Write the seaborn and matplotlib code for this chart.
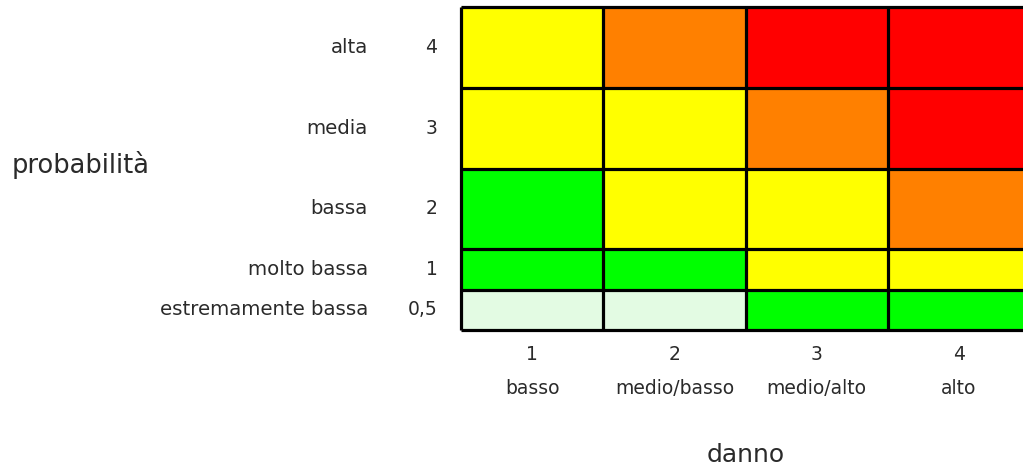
import numpy as np
import matplotlib
matplotlib.use('Agg')
import matplotlib.pyplot as plt
from matplotlib.colors import ListedColormap
import matplotlib.transforms as mtransforms
import seaborn as sns

# Risk matrix data (rows from top to bottom)
prob_values = ['4', '3', '2', '1', '0,5']
prob_names = ['alta', 'media', 'bassa', 'molto bassa', 'estremamente bassa']
damage_values = ['1', '2', '3', '4']
damage_names = ['basso', 'medio/basso', 'medio/alto', 'alto']

# risk class for each cell: 0 light green, 1 green, 2 yellow, 3 orange, 4 red
risk_alta = [2, 3, 4, 4]
risk_media = [2, 2, 3, 4]
risk_bassa = [1, 2, 2, 3]
risk_molto_bassa = [1, 1, 2, 2]
risk_estremamente_bassa = [0, 0, 1, 1]

risk_colors = ['#e3fbe3', '#00ff00', '#ffff00', '#ff8000', '#ff0000']

# the top three rows are drawn twice as tall as the bottom two
row_span = [2, 2, 2, 1, 1]


def main():
    sns.set_style('white')
    plt.rcParams['font.family'] = ['DejaVu Sans']

    rows = [risk_alta, risk_media, risk_bassa, risk_molto_bassa, risk_estremamente_bassa]
    grid = np.repeat(np.array(rows), row_span, axis=0)

    fig = plt.figure(figsize=(10.23, 4.65), dpi=100)
    ax = fig.add_axes([461 / 1023, 135 / 465, 569 / 1023, 323 / 465])

    sns.heatmap(grid, cmap=ListedColormap(risk_colors), vmin=-0.5, vmax=4.5,
                cbar=False, linewidths=0, ax=ax)

    # cell borders
    edges = np.concatenate([[0], np.cumsum(row_span)])
    ax.hlines(edges, 0, len(damage_values), colors='black', linewidth=2.3, clip_on=False)
    ax.vlines(np.arange(len(damage_values) + 1), 0, edges[-1], colors='black',
              linewidth=2.3, clip_on=False)

    centers = edges[:-1] + np.array(row_span) / 2
    ax.set_yticks(centers)
    ax.set_yticklabels(prob_values, rotation=0, fontsize=13.5, color='#2a2a2a')
    ax.set_xticks(np.arange(len(damage_values)) + 0.5)
    ax.set_xticklabels([v + '\n' + n for v, n in zip(damage_values, damage_names)],
                       fontsize=13.5, color='#2a2a2a', linespacing=2.0)
    ax.tick_params(axis='y', length=0, pad=17)
    ax.tick_params(axis='x', length=0, pad=11)

    # names of probability levels left of the numbers
    trans = mtransforms.blended_transform_factory(ax.transAxes, ax.transData)
    for y, name in zip(centers, prob_names):
        ax.annotate(name, xy=(0, y), xycoords=trans, xytext=(-67, 0),
                    textcoords='offset points', ha='right', va='center',
                    fontsize=14.2, color='#2a2a2a')

    ax.set_ylabel('probabilità', rotation=0, fontsize=18.5, color='#2a2a2a',
                  ha='left', va='center')
    ax.yaxis.set_label_coords(-0.789, 0.51)
    ax.set_xlabel('danno', fontsize=18, color='#2a2a2a', va='center')
    ax.xaxis.set_label_coords(0.50, -0.387)

    fig.savefig('out.png', dpi=100)


if __name__ == "__main__":
    main()
